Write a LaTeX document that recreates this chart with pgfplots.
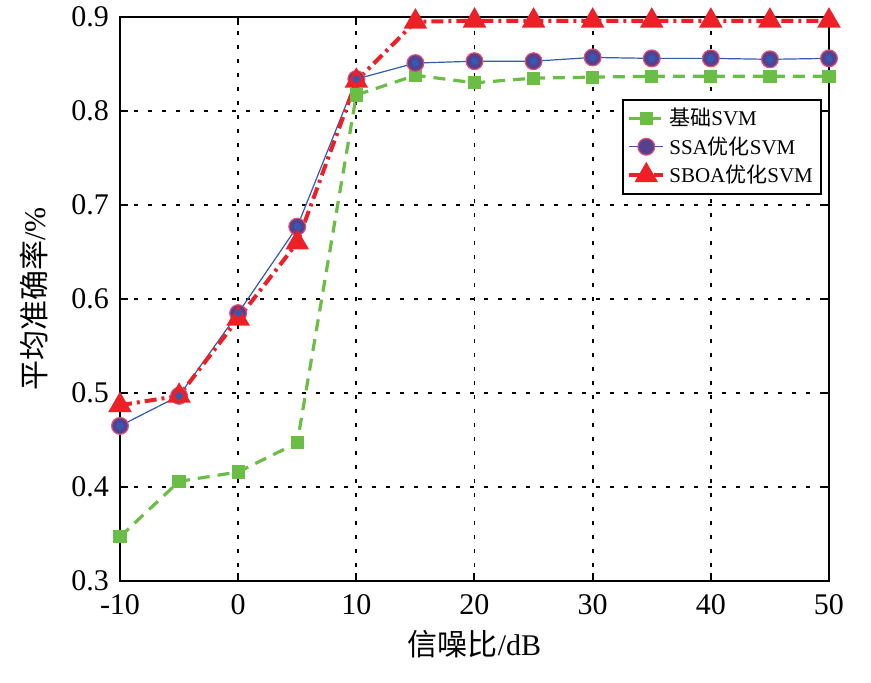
\documentclass[border=0pt]{standalone}
\usepackage{fontspec}
\setmainfont{Liberation Serif}
\newfontfamily\cjk{Noto Sans CJK SC}
\usepackage{pgfplots}
\pgfplotsset{compat=1.18}
\definecolor{cgreen}{RGB}{106,190,69}
\definecolor{cred}{RGB}{236,32,38}
\definecolor{cblue}{RGB}{50,90,175}
\definecolor{cpurple}{RGB}{85,65,145}
\definecolor{cpink}{RGB}{230,80,110}
\begin{document}
\begin{tikzpicture}
\useasboundingbox (-60pt,-50.5pt) rectangle (375.5pt,290.5pt);
\begin{axis}[
  at={(0,0)}, anchor=south west,
  scale only axis, width=354.5pt, height=282pt,
  xmin=-10, xmax=50, ymin=0.3, ymax=0.9,
  xtick={-10,0,10,20,30,40,50},
  xticklabels={-10,0,10,20,30,40,50},
  ytick={0.3,0.4,0.5,0.6,0.7,0.8,0.9},
  yticklabels={0.3,0.4,0.5,0.6,0.7,0.8,0.9},
  tick align=inside, major tick length=4pt,
  tick style={black, line width=1pt},
  axis line style={black, line width=1.3pt},
  every tick label/.append style={font=\fontsize{15}{17}\selectfont},
  xticklabel style={yshift=-3pt},
  yticklabel style={xshift=-2pt},
  grid=major,
  major grid style={black, line width=0.9pt, dash pattern=on 2pt off 5pt},
  xlabel={\fontsize{15}{17}\selectfont{\cjk 信噪比}/dB},
  ylabel={\fontsize{15}{17}\selectfont{\cjk 平均准确率}/\%},
  xlabel style={at={(0.5,0)}, anchor=center, yshift=-31.5pt},
  ylabel style={at={(0,0.5)}, anchor=center, xshift=0pt, yshift=43pt},
  legend style={at={(0.99,0.855)}, anchor=north east, draw=black, line width=1pt,
    font=\fontsize{10.5}{12}\selectfont, inner sep=2pt, row sep=0pt,
    cells={anchor=west}},
  legend cell align=left,
]
\addplot[cgreen, line width=1.6pt, dash pattern=on 6pt off 4pt,
  mark=square*, mark size=2.5pt, mark options={solid, fill=cgreen, draw=cgreen}]
  coordinates {(-10,0.347) (-5,0.406) (0,0.416) (5,0.447) (10,0.817) (15,0.838)
  (20,0.830) (25,0.835) (30,0.836) (35,0.837) (40,0.837) (45,0.837) (50,0.837)};
\addlegendentry{{\cjk 基础}SVM}
\addplot[cblue, line width=0.6pt,
  mark=*, mark size=4.2pt, mark options={fill=cpurple, draw=cpink, line width=0.6pt}]
  coordinates {(-10,0.465) (-5,0.497) (0,0.585) (5,0.677) (10,0.834) (15,0.851)
  (20,0.853) (25,0.853) (30,0.857) (35,0.856) (40,0.856) (45,0.855) (50,0.856)};
\addlegendentry{SSA{\cjk 优化}SVM}
\addplot[cred, line width=2pt, dash pattern=on 6pt off 2.5pt on 1.5pt off 2.5pt,
  mark=triangle*, mark size=4.8pt, mark options={solid, fill=cred, draw=cred}]
  coordinates {(-10,0.487) (-5,0.497) (0,0.579) (5,0.660) (10,0.832) (15,0.895)
  (20,0.896) (25,0.896) (30,0.896) (35,0.896) (40,0.896) (45,0.896) (50,0.896)};
\addlegendentry{SBOA{\cjk 优化}SVM}
\addplot[only marks, mark=*, mark size=1.6pt, mark options={fill=cblue, draw=cblue}, forget plot]
  coordinates {(-10,0.465) (-5,0.497) (0,0.585) (5,0.677) (10,0.834) (15,0.851)
  (20,0.853) (25,0.853) (30,0.857) (35,0.856) (40,0.856) (45,0.855) (50,0.856)};
\end{axis}
\end{tikzpicture}
\end{document}
